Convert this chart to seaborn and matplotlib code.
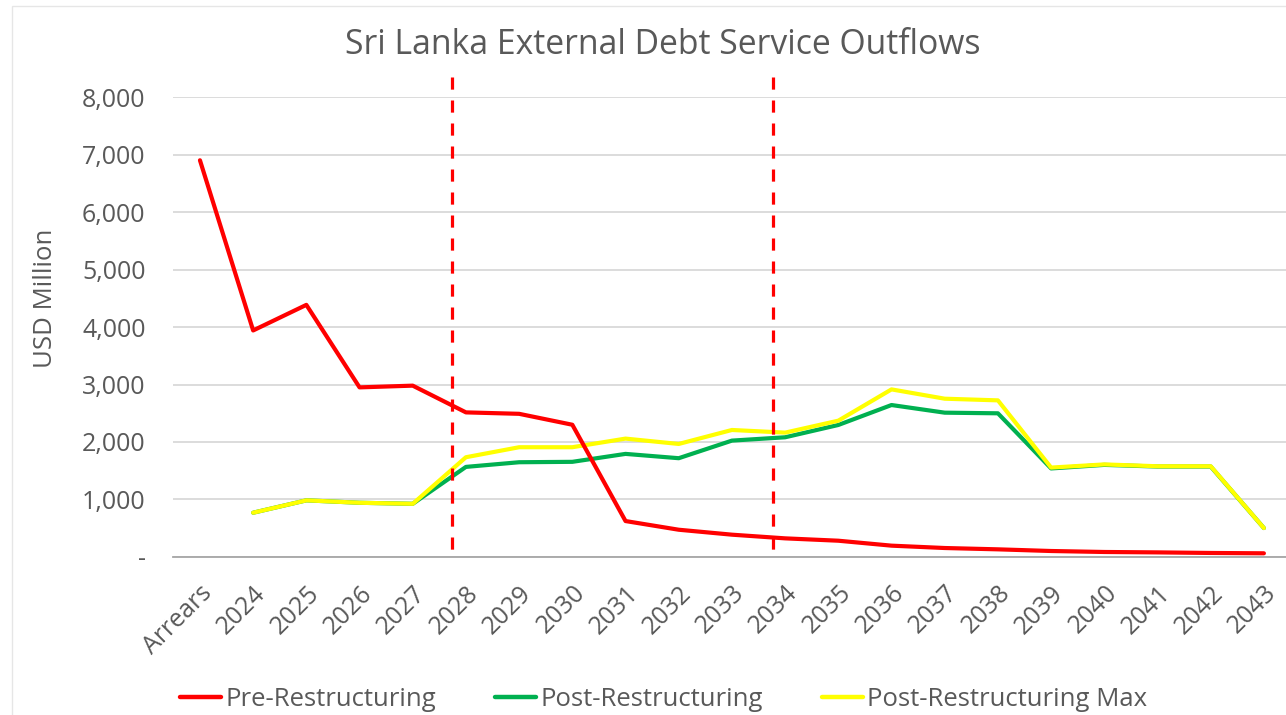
import numpy as np
import pandas as pd
import seaborn as sns
import matplotlib.pyplot as plt
from matplotlib.ticker import FuncFormatter
from matplotlib.patches import Rectangle

# categories and series (USD million)
years = ["Arrears"] + [str(y) for y in range(2024, 2044)]
pre_restructuring = [6900, 3940, 4385, 2950, 2980, 2515, 2490, 2300, 625, 474, 388,
                     324, 283, 197, 156, 133, 104, 87, 80, 70, 64]
post_restructuring = [np.nan, 770, 985, 943, 925, 1567, 1648, 1655, 1793, 1718, 2024,
                      2082, 2296, 2643, 2510, 2499, 1540, 1602, 1573, 1573, 503]
post_restructuring_max = [np.nan, 770, 985, 943, 925, 1735, 1909, 1909, 2059, 1966, 2209,
                          2163, 2371, 2915, 2753, 2724, 1555, 1610, 1578, 1578, 503]
# the two hand drawn red dashed markers (category position, from-to value)
marker_x = [4.74, 10.77]
marker_top = 8350
marker_bottom = 120

series_names = ["Pre-Restructuring", "Post-Restructuring", "Post-Restructuring Max"]
colors = ["#FF0000", "#00B050", "#FFFF00"]

df = pd.DataFrame({"Year": years,
                   series_names[0]: pre_restructuring,
                   series_names[1]: post_restructuring,
                   series_names[2]: post_restructuring_max})
long_df = df.melt(id_vars="Year", var_name="Series", value_name="USD")
long_df["pos"] = long_df["Year"].map({y: i for i, y in enumerate(years)})

sns.set_theme(style="white")
plt.rcParams['font.family'] = ['Open Sans', 'DejaVu Sans']
grey = "#595959"

fig = plt.figure(figsize=(12.86, 7.15), dpi=100)
ax = fig.add_axes([0.1348, 0.221, 0.8687, 0.6433])

# faint chart-area border from the screenshot
fig.patches.append(Rectangle((12 / 1286, -0.1), 1.2, 1.1 - 6 / 715, transform=fig.transFigure,
                             fill=False, edgecolor="#E6E6E6", linewidth=1))

sns.lineplot(data=long_df, x="pos", y="USD", hue="Series", hue_order=series_names,
             palette=colors, linewidth=3, ax=ax, legend=False, sort=False)
# keep the pre line on top
ax.lines[0].set_zorder(4)

for mx in marker_x:
    ax.plot([mx, mx], [marker_top, marker_bottom], color="#FF0000", linestyle=(0, (3.8, 3.4)),
            linewidth=2.3, clip_on=False, zorder=5)

ax.set_xlim(-0.5, len(years) - 0.5)
ax.set_ylim(0, 8000)
ax.set_yticks(range(0, 8001, 1000))
ax.yaxis.set_major_formatter(FuncFormatter(lambda v, p: "-" if v == 0 else f"{int(v):,}"))
ax.set_xticks(range(len(years)))
ax.set_xticklabels(years, rotation=45, ha="right", rotation_mode="anchor")
ax.tick_params(axis="both", colors=grey, labelsize=18, length=0)
ax.tick_params(axis="x", pad=17)
ax.tick_params(axis="y", pad=20)
ax.grid(axis="y", color="#D9D9D9", linewidth=1.3)
for s in ["top", "right", "left"]:
    ax.spines[s].set_visible(False)
ax.spines["bottom"].set_color("#A6A6A6")
ax.spines["bottom"].set_linewidth(1.3)
ax.set_xlabel("")
ax.set_ylabel("USD Million", color=grey, fontsize=18.5)
ax.yaxis.set_label_coords(-0.103, 0.563)

fig.text(0.515, 0.937, "Sri Lanka External Debt Service Outflows", ha="center", va="center",
         color=grey, fontsize=24.3)

handles = [plt.Line2D([], [], color=c, linewidth=3.2) for c in colors]
fig.legend(handles, series_names, loc="center", bbox_to_anchor=(0.516, 0.022), ncol=3,
           frameon=False, fontsize=18.5, labelcolor=grey, handlelength=1.6,
           handletextpad=0.15, columnspacing=2.3)

fig.savefig("out.png", dpi=100)
